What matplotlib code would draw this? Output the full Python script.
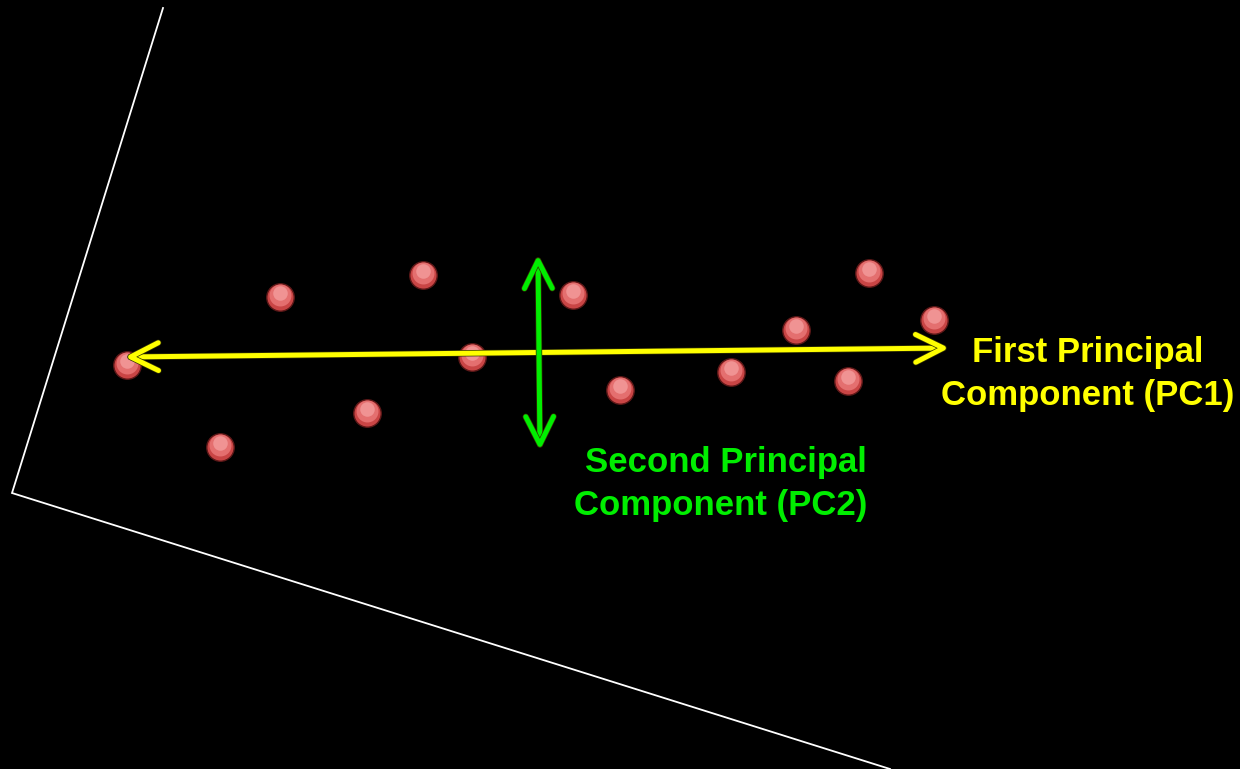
import matplotlib.pyplot as plt
import matplotlib.patheffects as pe

# dot positions (pixel space, y down)
pts_x = [127, 220, 280, 367, 423, 472, 573, 620, 731, 796, 848, 869, 934]
pts_y = [365, 447, 297, 413, 275, 357, 295, 390, 372, 330, 381, 273, 320]

# tilted axes drawn in white
axis_x = [163, 12, 890]
axis_y = [8, 493, 769]

# principal component arrows
pc1_start, pc1_end = (125, 357), (949, 348)
pc2_start, pc2_end = (538, 255), (540, 450)

fig = plt.figure(figsize=(12.4, 7.69), dpi=100, facecolor='black')
ax = fig.add_axes([0, 0, 1, 1])
ax.set_facecolor('black')
ax.set_xlim(0, 1240)
ax.set_ylim(769, 0)
ax.axis('off')

ax.plot(axis_x, axis_y, color='white', lw=1.3, solid_joinstyle='miter')

# dots: darker base with lighter top for a bit of shading
ax.scatter(pts_x, pts_y, s=390, color='#c94545', edgecolor='#5e1818', lw=1.0, zorder=3)
ax.scatter(pts_x, [y - 2 for y in pts_y], s=250, color='#e46f6f', lw=0, zorder=4)
ax.scatter(pts_x, [y - 4 for y in pts_y], s=110, color='#f09393', lw=0, zorder=4)

def arrow(p0, p1, col):
    ax.annotate('', xy=p1, xytext=p0,
                arrowprops=dict(arrowstyle='<->,head_length=1.0,head_width=0.5',
                                color=col, lw=3.6, mutation_scale=20,
                                shrinkA=0, shrinkB=0, capstyle='round',
                                joinstyle='round',
                                path_effects=[pe.Stroke(linewidth=4.6, foreground='#333300'), pe.Normal()]),
                zorder=5)

arrow(pc1_start, pc1_end, '#ffff00')
arrow(pc2_start, pc2_end, '#00ee00')

font = dict(family=['Liberation Sans', 'DejaVu Sans'],
            fontweight='bold', fontsize=25)
ax.text(1088, 374, 'First Principal\nComponent (PC1)', color='#ffff00',
        ha='center', va='center', linespacing=1.42, **font)
ax.text(867, 484, 'Second Principal\nComponent (PC2)', color='#00ee00',
        ha='right', va='center', linespacing=1.42, multialignment='right', **font)

fig.savefig('out.png', dpi=100, facecolor='black')
